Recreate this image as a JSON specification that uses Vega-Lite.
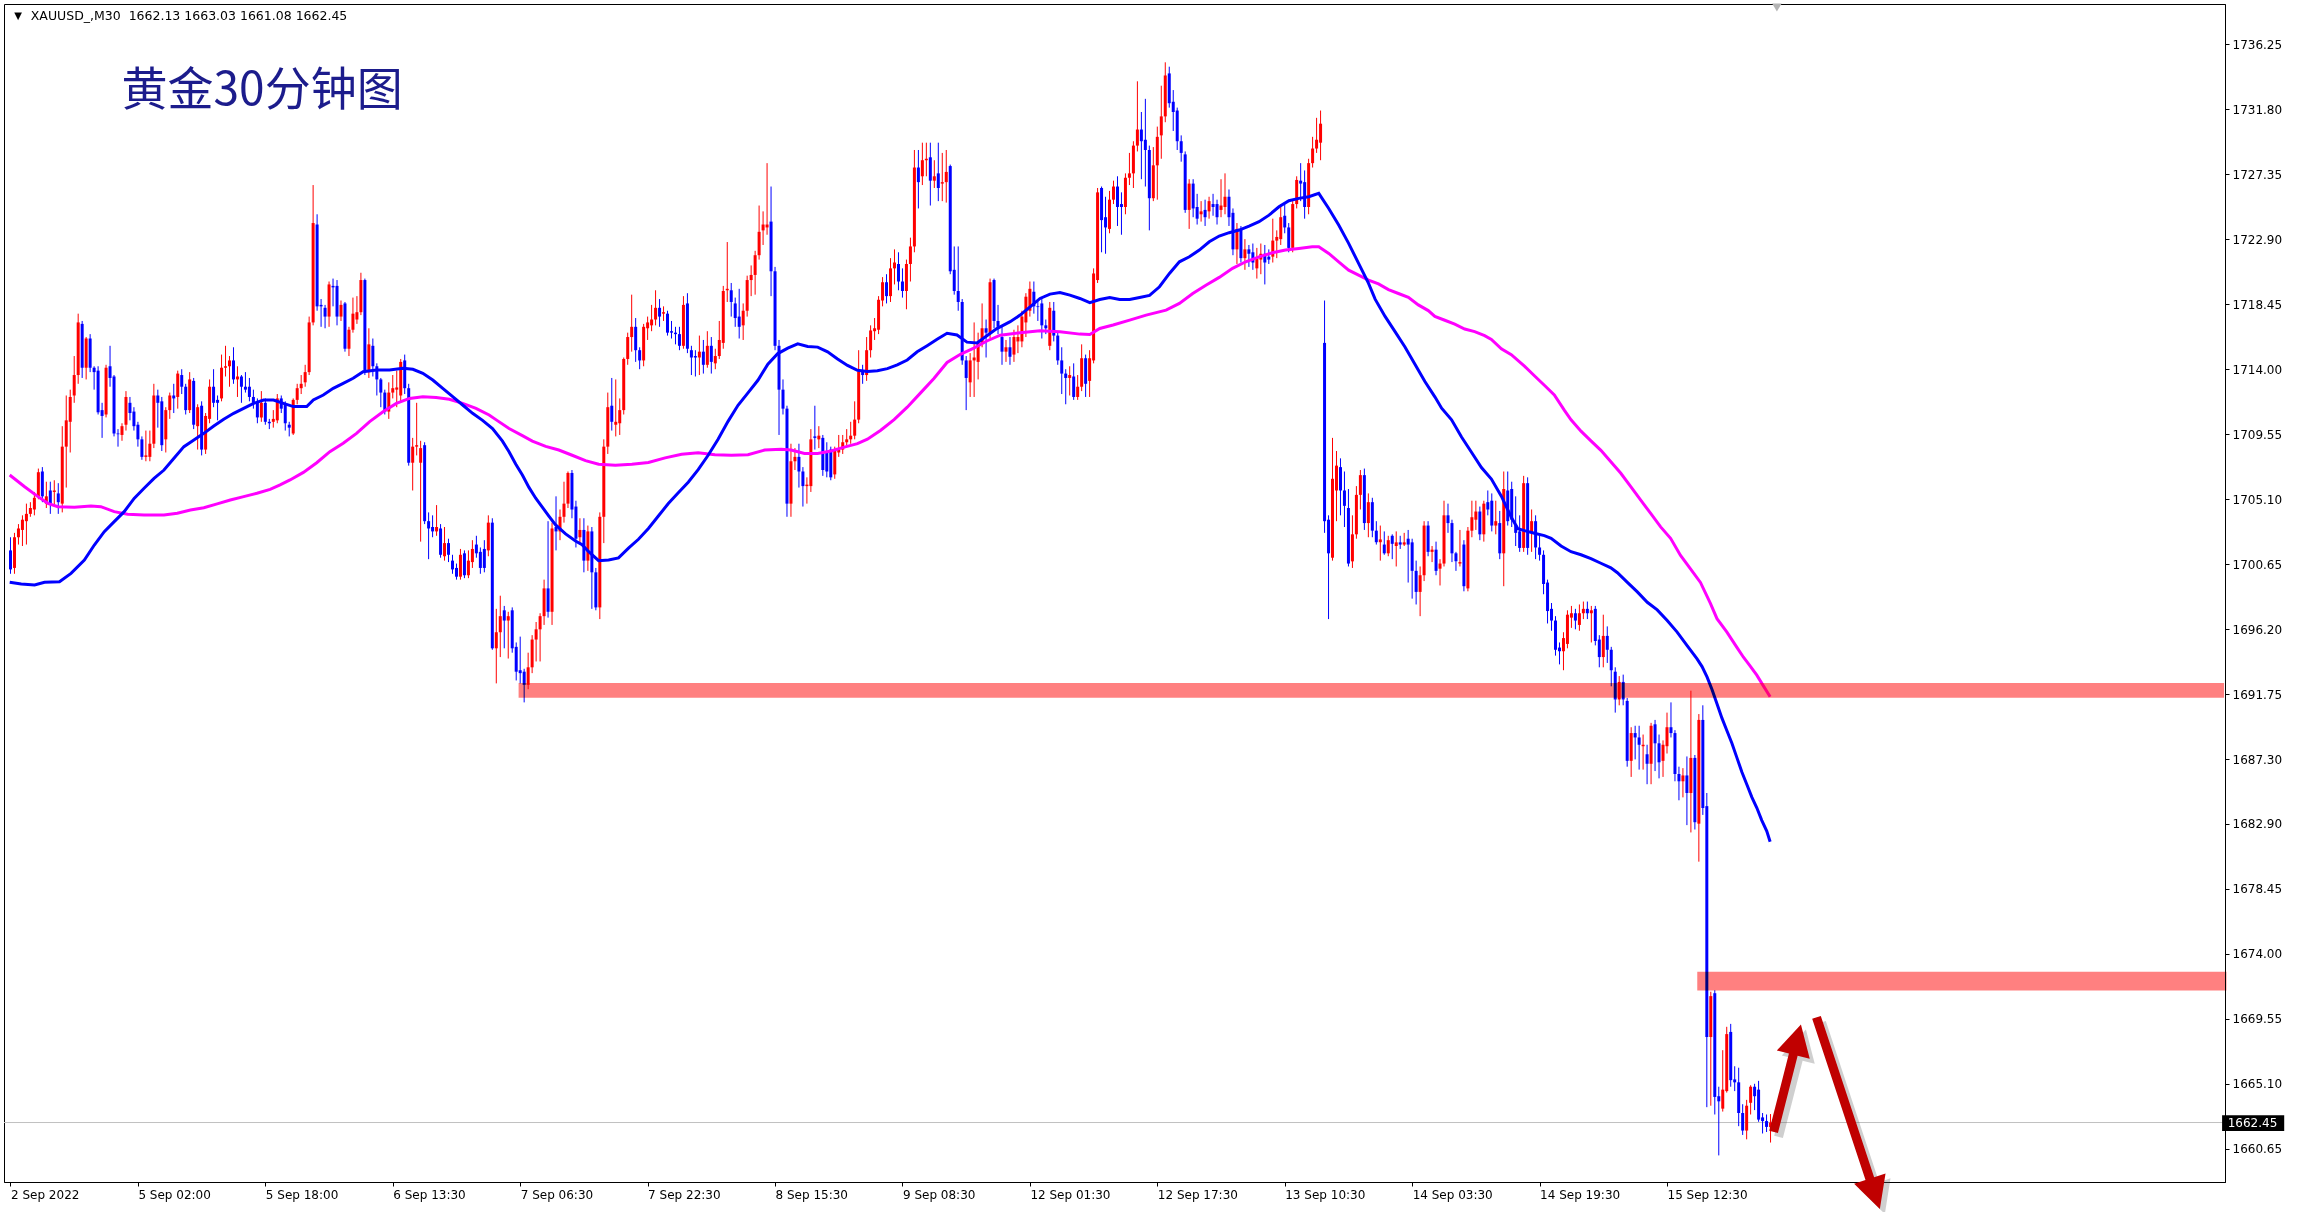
{
  "$schema": "https://vega.github.io/schema/vega-lite/v6.json",
  "width": 2221,
  "height": 1178,
  "autosize": {"type": "none"},
  "padding": {"left": 4, "top": 4, "right": 74, "bottom": 30},
  "background": "#ffffff",
  "config": {
    "view": {"stroke": "#000000", "strokeWidth": 1},
    "font": "DejaVu Sans",
    "axis": {"labelFont": "DejaVu Sans", "labelFontSize": 12, "labelColor": "#000000", "tickColor": "#000000", "domainColor": "#000000", "grid": false, "tickSize": 4, "labelFlush": false, "labelOverlap": false, "labelBound": false}
  },
  "datasets": {
    "candles": [
{"i":0,"o":1701.6,"h":1702.5,"l":1700.0,"c":1700.3},
{"i":1,"o":1700.4,"h":1702.8,"l":1700.0,"c":1702.5},
{"i":2,"o":1702.5,"h":1703.4,"l":1702.0,"c":1703.1},
{"i":3,"o":1703.0,"h":1704.0,"l":1701.9,"c":1703.7},
{"i":4,"o":1703.6,"h":1704.8,"l":1702.0,"c":1704.1},
{"i":5,"o":1704.1,"h":1704.9,"l":1703.9,"c":1704.5},
{"i":6,"o":1704.4,"h":1705.6,"l":1704.0,"c":1705.2},
{"i":7,"o":1705.3,"h":1707.2,"l":1705.1,"c":1706.95},
{"i":8,"o":1707.0,"h":1707.3,"l":1704.9,"c":1705.3},
{"i":9,"o":1704.8,"h":1706.3,"l":1704.5,"c":1705.3},
{"i":10,"o":1705.7,"h":1706.3,"l":1704.1,"c":1704.8},
{"i":11,"o":1705.6,"h":1706.4,"l":1704.6,"c":1705.7},
{"i":12,"o":1705.5,"h":1706.2,"l":1704.1,"c":1704.9},
{"i":13,"o":1704.8,"h":1710.1,"l":1704.2,"c":1708.7},
{"i":14,"o":1708.7,"h":1712.2,"l":1705.9,"c":1710.5},
{"i":15,"o":1710.4,"h":1712.6,"l":1708.3,"c":1712.1},
{"i":16,"o":1712.2,"h":1714.9,"l":1711.7,"c":1713.6},
{"i":17,"o":1713.6,"h":1717.8,"l":1713.0,"c":1717.2},
{"i":18,"o":1717.1,"h":1717.3,"l":1713.4,"c":1714.1},
{"i":19,"o":1714.1,"h":1716.2,"l":1713.3,"c":1716.1},
{"i":20,"o":1716.1,"h":1716.4,"l":1713.8,"c":1714.1},
{"i":21,"o":1714.1,"h":1714.2,"l":1712.6,"c":1713.8},
{"i":22,"o":1713.9,"h":1714.2,"l":1710.9,"c":1711.05},
{"i":23,"o":1711.2,"h":1711.7,"l":1709.3,"c":1710.8},
{"i":24,"o":1710.9,"h":1714.3,"l":1710.7,"c":1714.1},
{"i":25,"o":1714.2,"h":1715.6,"l":1712.8,"c":1713.4},
{"i":26,"o":1713.5,"h":1713.6,"l":1709.4,"c":1709.6},
{"i":27,"o":1709.6,"h":1709.9,"l":1708.7,"c":1709.55},
{"i":28,"o":1709.5,"h":1710.3,"l":1709.1,"c":1710.1},
{"i":29,"o":1710.2,"h":1712.5,"l":1709.8,"c":1712.1},
{"i":30,"o":1711.7,"h":1712.1,"l":1710.5,"c":1711.0},
{"i":31,"o":1711.1,"h":1711.4,"l":1709.8,"c":1710.1},
{"i":32,"o":1710.2,"h":1710.4,"l":1708.7,"c":1709.2},
{"i":33,"o":1709.2,"h":1709.4,"l":1707.8,"c":1708.0},
{"i":34,"o":1708.0,"h":1709.8,"l":1707.7,"c":1708.1},
{"i":35,"o":1708.0,"h":1709.8,"l":1707.7,"c":1708.9},
{"i":36,"o":1708.9,"h":1713.0,"l":1708.6,"c":1712.2},
{"i":37,"o":1712.2,"h":1712.6,"l":1710.0,"c":1711.7},
{"i":38,"o":1711.8,"h":1712.1,"l":1708.4,"c":1708.8},
{"i":39,"o":1709.2,"h":1711.4,"l":1708.3,"c":1711.2},
{"i":40,"o":1711.2,"h":1712.4,"l":1710.6,"c":1712.2},
{"i":41,"o":1712.2,"h":1713.0,"l":1711.0,"c":1712.0},
{"i":42,"o":1712.1,"h":1713.9,"l":1711.3,"c":1713.7},
{"i":43,"o":1713.6,"h":1714.0,"l":1712.3,"c":1712.8},
{"i":44,"o":1712.8,"h":1713.0,"l":1710.9,"c":1711.2},
{"i":45,"o":1711.2,"h":1713.8,"l":1711.0,"c":1713.3},
{"i":46,"o":1713.2,"h":1713.4,"l":1709.9,"c":1710.2},
{"i":47,"o":1710.1,"h":1711.6,"l":1708.5,"c":1711.4},
{"i":48,"o":1711.5,"h":1711.8,"l":1708.1,"c":1708.5},
{"i":49,"o":1708.5,"h":1711.0,"l":1708.2,"c":1710.8},
{"i":50,"o":1710.6,"h":1713.3,"l":1710.3,"c":1712.8},
{"i":51,"o":1712.8,"h":1714.0,"l":1711.4,"c":1711.7},
{"i":52,"o":1711.9,"h":1712.2,"l":1710.5,"c":1711.7},
{"i":53,"o":1712.0,"h":1715.0,"l":1711.8,"c":1714.1},
{"i":54,"o":1714.1,"h":1715.6,"l":1713.5,"c":1714.2},
{"i":55,"o":1714.2,"h":1714.9,"l":1712.8,"c":1714.6},
{"i":56,"o":1714.6,"h":1715.5,"l":1713.0,"c":1713.3},
{"i":57,"o":1713.3,"h":1714.2,"l":1712.1,"c":1713.5},
{"i":58,"o":1713.5,"h":1713.6,"l":1711.7,"c":1712.8},
{"i":59,"o":1712.8,"h":1713.8,"l":1712.4,"c":1712.6},
{"i":60,"o":1712.8,"h":1713.4,"l":1711.8,"c":1712.1},
{"i":61,"o":1712.1,"h":1712.6,"l":1711.3,"c":1711.7},
{"i":62,"o":1711.7,"h":1712.0,"l":1710.3,"c":1710.7},
{"i":63,"o":1710.7,"h":1712.5,"l":1710.4,"c":1711.7},
{"i":64,"o":1711.7,"h":1712.0,"l":1710.2,"c":1710.4},
{"i":65,"o":1710.4,"h":1710.6,"l":1709.9,"c":1710.3},
{"i":66,"o":1710.4,"h":1711.2,"l":1710.0,"c":1710.6},
{"i":67,"o":1710.5,"h":1712.3,"l":1710.3,"c":1712.0},
{"i":68,"o":1712.0,"h":1712.2,"l":1711.0,"c":1711.3},
{"i":69,"o":1711.6,"h":1711.8,"l":1709.8,"c":1710.3},
{"i":70,"o":1710.2,"h":1710.4,"l":1709.4,"c":1710.0},
{"i":71,"o":1709.6,"h":1712.0,"l":1709.5,"c":1711.9},
{"i":72,"o":1711.9,"h":1713.0,"l":1711.6,"c":1712.7},
{"i":73,"o":1712.7,"h":1713.6,"l":1712.3,"c":1713.0},
{"i":74,"o":1713.1,"h":1714.3,"l":1712.8,"c":1713.8},
{"i":75,"o":1713.8,"h":1717.6,"l":1713.6,"c":1717.2},
{"i":76,"o":1717.2,"h":1726.6,"l":1717.0,"c":1724.0},
{"i":77,"o":1723.9,"h":1724.6,"l":1718.0,"c":1718.3},
{"i":78,"o":1718.4,"h":1718.8,"l":1716.9,"c":1718.3},
{"i":79,"o":1718.2,"h":1718.4,"l":1716.8,"c":1717.6},
{"i":80,"o":1717.6,"h":1720.0,"l":1716.9,"c":1719.8},
{"i":81,"o":1719.7,"h":1720.2,"l":1718.3,"c":1719.6},
{"i":82,"o":1719.7,"h":1720.1,"l":1717.0,"c":1717.6},
{"i":83,"o":1717.6,"h":1718.7,"l":1717.3,"c":1718.4},
{"i":84,"o":1718.5,"h":1718.6,"l":1715.2,"c":1715.4},
{"i":85,"o":1715.4,"h":1716.9,"l":1714.9,"c":1716.7},
{"i":86,"o":1716.7,"h":1718.9,"l":1716.5,"c":1717.8},
{"i":87,"o":1717.4,"h":1719.0,"l":1717.1,"c":1717.9},
{"i":88,"o":1717.9,"h":1720.6,"l":1717.7,"c":1720.1},
{"i":89,"o":1720.1,"h":1720.2,"l":1713.6,"c":1713.8},
{"i":90,"o":1713.8,"h":1716.8,"l":1713.4,"c":1715.7},
{"i":91,"o":1715.6,"h":1716.1,"l":1713.5,"c":1714.2},
{"i":92,"o":1714.2,"h":1714.4,"l":1712.2,"c":1713.3},
{"i":93,"o":1713.3,"h":1713.4,"l":1711.4,"c":1712.4},
{"i":94,"o":1712.4,"h":1712.6,"l":1710.9,"c":1711.1},
{"i":95,"o":1711.1,"h":1713.1,"l":1710.6,"c":1712.4},
{"i":96,"o":1712.4,"h":1713.6,"l":1712.0,"c":1712.7},
{"i":97,"o":1712.6,"h":1713.9,"l":1711.4,"c":1712.75},
{"i":98,"o":1712.2,"h":1714.7,"l":1711.8,"c":1714.5},
{"i":99,"o":1714.6,"h":1715.0,"l":1712.3,"c":1712.7},
{"i":100,"o":1712.7,"h":1713.0,"l":1707.4,"c":1707.6},
{"i":101,"o":1707.6,"h":1709.3,"l":1705.7,"c":1708.7},
{"i":102,"o":1708.7,"h":1711.7,"l":1708.1,"c":1708.8},
{"i":103,"o":1707.6,"h":1709.1,"l":1702.2,"c":1708.6},
{"i":104,"o":1708.8,"h":1709.0,"l":1703.4,"c":1703.6},
{"i":105,"o":1703.6,"h":1704.2,"l":1701.0,"c":1703.1},
{"i":106,"o":1703.2,"h":1704.0,"l":1702.5,"c":1702.9},
{"i":107,"o":1702.9,"h":1704.7,"l":1702.6,"c":1703.2},
{"i":108,"o":1703.1,"h":1703.4,"l":1701.1,"c":1701.3},
{"i":109,"o":1701.2,"h":1703.2,"l":1700.9,"c":1702.1},
{"i":110,"o":1702.1,"h":1702.4,"l":1700.8,"c":1701.3},
{"i":111,"o":1700.9,"h":1701.3,"l":1700.0,"c":1700.3},
{"i":112,"o":1700.4,"h":1700.7,"l":1699.6,"c":1699.8},
{"i":113,"o":1699.8,"h":1701.7,"l":1699.6,"c":1701.3},
{"i":114,"o":1701.4,"h":1701.6,"l":1699.7,"c":1699.9},
{"i":115,"o":1699.9,"h":1701.6,"l":1699.7,"c":1700.9},
{"i":116,"o":1700.8,"h":1702.3,"l":1700.4,"c":1701.7},
{"i":117,"o":1702.0,"h":1702.6,"l":1701.1,"c":1701.4},
{"i":118,"o":1701.5,"h":1701.8,"l":1700.0,"c":1700.4},
{"i":119,"o":1701.7,"h":1702.3,"l":1700.1,"c":1700.4},
{"i":120,"o":1701.6,"h":1704.0,"l":1701.2,"c":1703.5},
{"i":121,"o":1703.5,"h":1703.8,"l":1694.8,"c":1694.9},
{"i":122,"o":1694.9,"h":1697.6,"l":1692.5,"c":1696.0},
{"i":123,"o":1696.0,"h":1698.5,"l":1694.3,"c":1697.1},
{"i":124,"o":1697.5,"h":1697.8,"l":1694.9,"c":1696.8},
{"i":125,"o":1696.8,"h":1697.4,"l":1694.2,"c":1697.1},
{"i":126,"o":1697.5,"h":1697.7,"l":1694.6,"c":1694.9},
{"i":127,"o":1695.0,"h":1695.3,"l":1692.7,"c":1693.3},
{"i":128,"o":1693.4,"h":1695.7,"l":1692.5,"c":1693.2},
{"i":129,"o":1693.3,"h":1693.5,"l":1691.2,"c":1692.4},
{"i":130,"o":1692.4,"h":1694.6,"l":1692.1,"c":1693.6},
{"i":131,"o":1693.6,"h":1695.8,"l":1693.2,"c":1695.5},
{"i":132,"o":1695.5,"h":1696.7,"l":1694.0,"c":1696.2},
{"i":133,"o":1696.2,"h":1697.3,"l":1694.0,"c":1697.1},
{"i":134,"o":1697.1,"h":1699.6,"l":1696.5,"c":1699.0},
{"i":135,"o":1699.0,"h":1703.6,"l":1697.0,"c":1697.4},
{"i":136,"o":1697.4,"h":1703.5,"l":1696.5,"c":1703.1},
{"i":137,"o":1703.2,"h":1705.3,"l":1701.6,"c":1702.9},
{"i":138,"o":1702.9,"h":1704.4,"l":1702.3,"c":1703.9},
{"i":139,"o":1703.9,"h":1706.3,"l":1703.5,"c":1704.8},
{"i":140,"o":1704.8,"h":1707.0,"l":1704.5,"c":1706.9},
{"i":141,"o":1706.9,"h":1707.1,"l":1703.8,"c":1704.4},
{"i":142,"o":1704.6,"h":1705.0,"l":1701.8,"c":1702.4},
{"i":143,"o":1702.5,"h":1703.8,"l":1702.0,"c":1703.0},
{"i":144,"o":1703.0,"h":1703.8,"l":1700.1,"c":1700.9},
{"i":145,"o":1700.9,"h":1703.3,"l":1700.2,"c":1702.9},
{"i":146,"o":1702.9,"h":1703.2,"l":1697.6,"c":1700.1},
{"i":147,"o":1700.1,"h":1700.4,"l":1697.5,"c":1697.7},
{"i":148,"o":1697.7,"h":1704.2,"l":1696.9,"c":1703.9},
{"i":149,"o":1703.9,"h":1709.2,"l":1702.1,"c":1708.7},
{"i":150,"o":1708.7,"h":1712.4,"l":1708.2,"c":1711.4},
{"i":151,"o":1711.5,"h":1713.4,"l":1709.8,"c":1710.4},
{"i":152,"o":1710.2,"h":1713.3,"l":1709.4,"c":1710.4},
{"i":153,"o":1710.3,"h":1712.0,"l":1709.5,"c":1711.2},
{"i":154,"o":1711.2,"h":1714.8,"l":1710.9,"c":1714.7},
{"i":155,"o":1714.7,"h":1716.5,"l":1714.3,"c":1716.2},
{"i":156,"o":1716.2,"h":1719.1,"l":1715.2,"c":1716.9},
{"i":157,"o":1716.9,"h":1717.5,"l":1714.5,"c":1715.3},
{"i":158,"o":1715.3,"h":1715.5,"l":1714.0,"c":1714.6},
{"i":159,"o":1714.6,"h":1717.1,"l":1714.2,"c":1716.9},
{"i":160,"o":1716.8,"h":1717.6,"l":1716.0,"c":1717.2},
{"i":161,"o":1717.0,"h":1718.4,"l":1716.6,"c":1717.4},
{"i":162,"o":1717.4,"h":1719.4,"l":1717.0,"c":1718.2},
{"i":163,"o":1718.2,"h":1718.8,"l":1716.9,"c":1717.6},
{"i":164,"o":1717.8,"h":1718.3,"l":1717.3,"c":1717.9},
{"i":165,"o":1717.8,"h":1718.0,"l":1716.3,"c":1716.5},
{"i":166,"o":1716.6,"h":1717.3,"l":1716.1,"c":1716.5},
{"i":167,"o":1716.5,"h":1716.9,"l":1715.7,"c":1716.4},
{"i":168,"o":1716.4,"h":1716.9,"l":1715.3,"c":1715.6},
{"i":169,"o":1715.6,"h":1719.0,"l":1715.4,"c":1718.4},
{"i":170,"o":1718.5,"h":1719.2,"l":1715.1,"c":1715.4},
{"i":171,"o":1715.3,"h":1715.6,"l":1713.6,"c":1714.8},
{"i":172,"o":1714.9,"h":1715.3,"l":1713.5,"c":1714.8},
{"i":173,"o":1714.8,"h":1716.3,"l":1713.6,"c":1715.2},
{"i":174,"o":1715.2,"h":1716.0,"l":1713.7,"c":1714.3},
{"i":175,"o":1714.3,"h":1716.6,"l":1714.1,"c":1715.6},
{"i":176,"o":1715.6,"h":1716.2,"l":1713.7,"c":1714.5},
{"i":177,"o":1714.4,"h":1715.4,"l":1714.0,"c":1714.9},
{"i":178,"o":1714.9,"h":1717.3,"l":1714.7,"c":1716.0},
{"i":179,"o":1715.8,"h":1719.7,"l":1715.4,"c":1719.35},
{"i":180,"o":1719.4,"h":1722.7,"l":1718.6,"c":1719.5},
{"i":181,"o":1719.4,"h":1719.9,"l":1717.6,"c":1718.6},
{"i":182,"o":1718.5,"h":1718.9,"l":1716.9,"c":1717.5},
{"i":183,"o":1717.6,"h":1719.5,"l":1716.1,"c":1716.9},
{"i":184,"o":1717.0,"h":1718.5,"l":1716.0,"c":1718.0},
{"i":185,"o":1718.0,"h":1720.4,"l":1717.6,"c":1720.1},
{"i":186,"o":1720.1,"h":1721.1,"l":1719.0,"c":1720.45},
{"i":187,"o":1720.45,"h":1722.1,"l":1719.1,"c":1721.8},
{"i":188,"o":1721.8,"h":1725.2,"l":1721.5,"c":1723.4},
{"i":189,"o":1723.5,"h":1724.8,"l":1722.5,"c":1723.9},
{"i":190,"o":1723.7,"h":1728.1,"l":1723.2,"c":1723.9},
{"i":191,"o":1724.1,"h":1726.5,"l":1719.0,"c":1720.7},
{"i":192,"o":1720.7,"h":1721.0,"l":1715.3,"c":1715.6},
{"i":193,"o":1715.6,"h":1716.0,"l":1709.5,"c":1712.6},
{"i":194,"o":1712.6,"h":1713.3,"l":1710.9,"c":1711.3},
{"i":195,"o":1711.3,"h":1711.5,"l":1703.9,"c":1704.8},
{"i":196,"o":1704.8,"h":1708.9,"l":1703.9,"c":1707.7},
{"i":197,"o":1707.7,"h":1708.6,"l":1707.1,"c":1708.0},
{"i":198,"o":1708.0,"h":1708.9,"l":1705.9,"c":1707.0},
{"i":199,"o":1707.0,"h":1707.3,"l":1704.6,"c":1706.0},
{"i":200,"o":1706.0,"h":1706.6,"l":1704.8,"c":1706.1},
{"i":201,"o":1706.0,"h":1709.9,"l":1705.6,"c":1709.2},
{"i":202,"o":1709.4,"h":1711.5,"l":1708.5,"c":1709.3},
{"i":203,"o":1709.2,"h":1710.1,"l":1708.6,"c":1709.45},
{"i":204,"o":1709.3,"h":1709.5,"l":1706.7,"c":1707.1},
{"i":205,"o":1708.3,"h":1709.0,"l":1706.6,"c":1707.0},
{"i":206,"o":1708.5,"h":1708.7,"l":1706.4,"c":1706.6},
{"i":207,"o":1706.8,"h":1708.7,"l":1706.5,"c":1708.5},
{"i":208,"o":1708.3,"h":1709.5,"l":1708.0,"c":1708.5},
{"i":209,"o":1708.5,"h":1709.5,"l":1708.2,"c":1709.0},
{"i":210,"o":1709.0,"h":1709.9,"l":1708.8,"c":1709.2},
{"i":211,"o":1709.2,"h":1710.4,"l":1708.9,"c":1709.45},
{"i":212,"o":1709.45,"h":1711.8,"l":1709.2,"c":1710.55},
{"i":213,"o":1710.55,"h":1715.3,"l":1710.3,"c":1713.85},
{"i":214,"o":1713.85,"h":1714.3,"l":1713.0,"c":1713.6},
{"i":215,"o":1713.6,"h":1716.2,"l":1713.2,"c":1715.3},
{"i":216,"o":1715.3,"h":1717.0,"l":1714.8,"c":1716.65},
{"i":217,"o":1716.6,"h":1717.5,"l":1716.0,"c":1716.8},
{"i":218,"o":1716.7,"h":1719.0,"l":1716.4,"c":1718.75},
{"i":219,"o":1718.7,"h":1720.3,"l":1718.3,"c":1719.95},
{"i":220,"o":1719.95,"h":1720.5,"l":1718.5,"c":1719.0},
{"i":221,"o":1719.0,"h":1721.6,"l":1718.6,"c":1720.9},
{"i":222,"o":1720.9,"h":1722.2,"l":1719.8,"c":1721.3},
{"i":223,"o":1721.2,"h":1722.0,"l":1719.4,"c":1720.0},
{"i":224,"o":1720.0,"h":1720.9,"l":1718.9,"c":1719.35},
{"i":225,"o":1719.35,"h":1721.5,"l":1718.1,"c":1721.2},
{"i":226,"o":1721.2,"h":1723.0,"l":1720.0,"c":1722.4},
{"i":227,"o":1722.4,"h":1729.0,"l":1722.0,"c":1727.8},
{"i":228,"o":1727.8,"h":1729.0,"l":1725.0,"c":1726.8},
{"i":229,"o":1727.2,"h":1729.5,"l":1726.6,"c":1728.3},
{"i":230,"o":1728.3,"h":1729.5,"l":1727.2,"c":1728.4},
{"i":231,"o":1728.5,"h":1729.5,"l":1725.2,"c":1726.9},
{"i":232,"o":1726.9,"h":1728.3,"l":1726.4,"c":1727.2},
{"i":233,"o":1727.4,"h":1729.5,"l":1725.5,"c":1726.4},
{"i":234,"o":1726.7,"h":1728.8,"l":1725.5,"c":1726.8},
{"i":235,"o":1726.8,"h":1729.0,"l":1725.4,"c":1727.5},
{"i":236,"o":1727.9,"h":1728.0,"l":1720.5,"c":1720.7},
{"i":237,"o":1720.8,"h":1722.4,"l":1719.1,"c":1719.35},
{"i":238,"o":1719.35,"h":1722.4,"l":1718.0,"c":1718.6},
{"i":239,"o":1718.6,"h":1718.8,"l":1714.3,"c":1714.6},
{"i":240,"o":1714.6,"h":1714.9,"l":1711.2,"c":1713.4},
{"i":241,"o":1713.1,"h":1715.1,"l":1712.1,"c":1714.6},
{"i":242,"o":1714.6,"h":1717.2,"l":1712.1,"c":1714.8},
{"i":243,"o":1714.5,"h":1716.5,"l":1713.3,"c":1715.8},
{"i":244,"o":1715.8,"h":1718.5,"l":1715.5,"c":1716.8},
{"i":245,"o":1716.8,"h":1717.4,"l":1714.8,"c":1716.5},
{"i":246,"o":1716.5,"h":1720.2,"l":1716.1,"c":1719.95},
{"i":247,"o":1720.1,"h":1720.2,"l":1716.8,"c":1717.3},
{"i":248,"o":1717.3,"h":1718.4,"l":1716.4,"c":1716.9},
{"i":249,"o":1716.2,"h":1717.0,"l":1714.3,"c":1715.2},
{"i":250,"o":1715.2,"h":1716.0,"l":1714.5,"c":1715.5},
{"i":251,"o":1715.5,"h":1716.2,"l":1714.3,"c":1714.85},
{"i":252,"o":1715.0,"h":1716.7,"l":1714.5,"c":1716.2},
{"i":253,"o":1715.9,"h":1717.0,"l":1715.1,"c":1716.2},
{"i":254,"o":1715.9,"h":1718.0,"l":1715.5,"c":1717.6},
{"i":255,"o":1717.2,"h":1719.2,"l":1716.2,"c":1718.96},
{"i":256,"o":1718.0,"h":1720.0,"l":1717.6,"c":1719.5},
{"i":257,"o":1719.3,"h":1720.0,"l":1717.8,"c":1718.3},
{"i":258,"o":1718.3,"h":1718.8,"l":1717.3,"c":1718.25},
{"i":259,"o":1718.5,"h":1718.9,"l":1716.1,"c":1717.0},
{"i":260,"o":1717.0,"h":1717.4,"l":1716.4,"c":1716.8},
{"i":261,"o":1715.6,"h":1718.6,"l":1715.3,"c":1718.2},
{"i":262,"o":1718.0,"h":1718.6,"l":1715.9,"c":1716.3},
{"i":263,"o":1716.3,"h":1716.5,"l":1714.3,"c":1714.6},
{"i":264,"o":1714.6,"h":1715.5,"l":1712.3,"c":1713.7},
{"i":265,"o":1713.7,"h":1714.0,"l":1711.6,"c":1713.4},
{"i":266,"o":1713.4,"h":1714.2,"l":1712.2,"c":1713.6},
{"i":267,"o":1713.5,"h":1714.4,"l":1711.9,"c":1712.1},
{"i":268,"o":1712.1,"h":1713.6,"l":1711.9,"c":1712.8},
{"i":269,"o":1712.8,"h":1715.7,"l":1712.5,"c":1714.75},
{"i":270,"o":1714.75,"h":1715.0,"l":1712.1,"c":1713.0},
{"i":271,"o":1713.2,"h":1715.3,"l":1712.1,"c":1714.75},
{"i":272,"o":1714.6,"h":1720.9,"l":1714.4,"c":1720.55},
{"i":273,"o":1720.1,"h":1726.4,"l":1719.9,"c":1726.1},
{"i":274,"o":1726.4,"h":1726.5,"l":1722.0,"c":1724.2},
{"i":275,"o":1724.4,"h":1725.8,"l":1721.9,"c":1723.7},
{"i":276,"o":1723.6,"h":1726.2,"l":1723.3,"c":1725.6},
{"i":277,"o":1725.6,"h":1726.9,"l":1725.3,"c":1726.5},
{"i":278,"o":1726.5,"h":1727.2,"l":1723.8,"c":1725.1},
{"i":279,"o":1725.3,"h":1726.1,"l":1723.2,"c":1725.1},
{"i":280,"o":1725.1,"h":1727.4,"l":1724.6,"c":1727.1},
{"i":281,"o":1727.1,"h":1728.8,"l":1726.6,"c":1727.4},
{"i":282,"o":1727.4,"h":1729.6,"l":1726.4,"c":1729.3},
{"i":283,"o":1729.3,"h":1733.7,"l":1728.9,"c":1730.4},
{"i":284,"o":1730.4,"h":1731.6,"l":1727.0,"c":1729.6},
{"i":285,"o":1729.7,"h":1732.5,"l":1726.5,"c":1729.0},
{"i":286,"o":1729.0,"h":1729.3,"l":1723.5,"c":1725.7},
{"i":287,"o":1725.7,"h":1729.2,"l":1725.5,"c":1727.95},
{"i":288,"o":1727.95,"h":1730.6,"l":1725.6,"c":1729.9},
{"i":289,"o":1730.0,"h":1733.4,"l":1728.4,"c":1731.3},
{"i":290,"o":1731.3,"h":1735.0,"l":1730.9,"c":1734.1},
{"i":291,"o":1734.24,"h":1734.7,"l":1731.9,"c":1732.2},
{"i":292,"o":1732.3,"h":1733.1,"l":1730.3,"c":1731.6},
{"i":293,"o":1731.7,"h":1731.9,"l":1729.0,"c":1729.6},
{"i":294,"o":1729.6,"h":1730.0,"l":1728.2,"c":1728.8},
{"i":295,"o":1728.7,"h":1728.9,"l":1724.7,"c":1724.9},
{"i":296,"o":1724.9,"h":1727.0,"l":1723.6,"c":1726.7},
{"i":297,"o":1726.7,"h":1727.0,"l":1724.4,"c":1725.0},
{"i":298,"o":1725.1,"h":1726.0,"l":1723.9,"c":1724.3},
{"i":299,"o":1724.6,"h":1725.5,"l":1724.1,"c":1724.8},
{"i":300,"o":1724.9,"h":1725.6,"l":1723.8,"c":1724.4},
{"i":301,"o":1724.8,"h":1725.8,"l":1724.3,"c":1725.5},
{"i":302,"o":1725.3,"h":1726.0,"l":1724.5,"c":1725.1},
{"i":303,"o":1725.3,"h":1725.6,"l":1723.9,"c":1724.4},
{"i":304,"o":1724.9,"h":1727.0,"l":1724.4,"c":1725.2},
{"i":305,"o":1725.1,"h":1727.4,"l":1724.6,"c":1725.8},
{"i":306,"o":1725.8,"h":1726.3,"l":1723.8,"c":1724.4},
{"i":307,"o":1724.7,"h":1725.0,"l":1721.8,"c":1722.2},
{"i":308,"o":1722.2,"h":1724.0,"l":1721.2,"c":1723.6},
{"i":309,"o":1723.6,"h":1723.8,"l":1721.3,"c":1721.6},
{"i":310,"o":1721.6,"h":1722.9,"l":1720.8,"c":1722.2},
{"i":311,"o":1722.2,"h":1722.5,"l":1721.0,"c":1721.9},
{"i":312,"o":1722.0,"h":1722.6,"l":1720.8,"c":1721.3},
{"i":313,"o":1720.9,"h":1722.3,"l":1720.2,"c":1721.6},
{"i":314,"o":1721.5,"h":1722.6,"l":1720.5,"c":1721.9},
{"i":315,"o":1721.9,"h":1722.5,"l":1719.8,"c":1721.3},
{"i":316,"o":1721.7,"h":1722.2,"l":1721.2,"c":1721.5},
{"i":317,"o":1721.7,"h":1724.3,"l":1721.3,"c":1722.8},
{"i":318,"o":1722.8,"h":1723.5,"l":1721.6,"c":1723.05},
{"i":319,"o":1722.9,"h":1725.3,"l":1722.5,"c":1724.4},
{"i":320,"o":1724.5,"h":1725.3,"l":1723.3,"c":1723.7},
{"i":321,"o":1723.7,"h":1724.0,"l":1722.0,"c":1722.3},
{"i":322,"o":1722.3,"h":1725.5,"l":1722.0,"c":1725.3},
{"i":323,"o":1725.3,"h":1727.2,"l":1725.0,"c":1726.95},
{"i":324,"o":1726.9,"h":1728.1,"l":1725.5,"c":1726.7},
{"i":325,"o":1726.8,"h":1727.6,"l":1724.3,"c":1725.1},
{"i":326,"o":1725.1,"h":1728.4,"l":1724.6,"c":1728.1},
{"i":327,"o":1728.1,"h":1729.9,"l":1727.8,"c":1729.1},
{"i":328,"o":1729.1,"h":1731.2,"l":1728.8,"c":1729.7},
{"i":329,"o":1729.5,"h":1731.7,"l":1728.3,"c":1730.8},
{"i":330,"o":1715.8,"h":1718.7,"l":1702.8,"c":1703.6},
{"i":331,"o":1703.7,"h":1704.0,"l":1696.9,"c":1701.4},
{"i":332,"o":1701.1,"h":1709.3,"l":1700.9,"c":1706.5},
{"i":333,"o":1705.7,"h":1708.4,"l":1703.6,"c":1707.4},
{"i":334,"o":1707.3,"h":1707.9,"l":1704.0,"c":1705.7},
{"i":335,"o":1705.7,"h":1707.0,"l":1703.2,"c":1704.65},
{"i":336,"o":1704.5,"h":1705.8,"l":1700.5,"c":1700.7},
{"i":337,"o":1700.85,"h":1704.0,"l":1700.4,"c":1702.7},
{"i":338,"o":1702.7,"h":1706.0,"l":1702.4,"c":1705.4},
{"i":339,"o":1705.4,"h":1707.1,"l":1704.4,"c":1706.75},
{"i":340,"o":1706.75,"h":1707.2,"l":1703.0,"c":1703.47},
{"i":341,"o":1703.47,"h":1705.5,"l":1702.5,"c":1704.9},
{"i":342,"o":1704.9,"h":1705.2,"l":1702.5,"c":1702.95},
{"i":343,"o":1702.95,"h":1703.6,"l":1702.0,"c":1702.16},
{"i":344,"o":1702.16,"h":1703.3,"l":1700.9,"c":1702.35},
{"i":345,"o":1702.0,"h":1702.9,"l":1701.3,"c":1701.4},
{"i":346,"o":1701.4,"h":1702.6,"l":1701.2,"c":1702.3},
{"i":347,"o":1702.6,"h":1702.7,"l":1701.0,"c":1702.05},
{"i":348,"o":1701.9,"h":1702.9,"l":1700.5,"c":1702.15},
{"i":349,"o":1702.15,"h":1702.6,"l":1701.7,"c":1702.0},
{"i":350,"o":1702.0,"h":1702.8,"l":1701.9,"c":1702.15},
{"i":351,"o":1702.4,"h":1703.0,"l":1699.4,"c":1702.0},
{"i":352,"o":1702.15,"h":1702.4,"l":1698.3,"c":1700.2},
{"i":353,"o":1700.2,"h":1700.9,"l":1697.9,"c":1698.76},
{"i":354,"o":1698.76,"h":1700.5,"l":1697.1,"c":1699.9},
{"i":355,"o":1699.9,"h":1703.6,"l":1699.5,"c":1703.3},
{"i":356,"o":1703.3,"h":1703.6,"l":1701.2,"c":1701.5},
{"i":357,"o":1701.5,"h":1701.9,"l":1700.8,"c":1701.65},
{"i":358,"o":1701.65,"h":1702.2,"l":1699.9,"c":1700.2},
{"i":359,"o":1700.35,"h":1701.0,"l":1699.2,"c":1700.7},
{"i":360,"o":1700.7,"h":1705.0,"l":1700.5,"c":1704.0},
{"i":361,"o":1704.0,"h":1704.8,"l":1702.8,"c":1703.47},
{"i":362,"o":1703.47,"h":1703.7,"l":1700.8,"c":1701.4},
{"i":363,"o":1701.4,"h":1701.5,"l":1700.2,"c":1700.86},
{"i":364,"o":1700.7,"h":1703.0,"l":1700.5,"c":1700.8},
{"i":365,"o":1702.0,"h":1702.3,"l":1698.8,"c":1699.15},
{"i":366,"o":1699.0,"h":1703.2,"l":1698.8,"c":1702.95},
{"i":367,"o":1702.95,"h":1705.0,"l":1702.5,"c":1703.87},
{"i":368,"o":1703.7,"h":1705.0,"l":1703.0,"c":1704.26},
{"i":369,"o":1704.26,"h":1704.6,"l":1702.3,"c":1702.7},
{"i":370,"o":1702.7,"h":1705.0,"l":1702.2,"c":1704.8},
{"i":371,"o":1704.9,"h":1705.7,"l":1704.0,"c":1704.4},
{"i":372,"o":1705.0,"h":1705.5,"l":1702.9,"c":1703.3},
{"i":373,"o":1703.3,"h":1705.0,"l":1702.7,"c":1703.6},
{"i":374,"o":1703.47,"h":1704.3,"l":1701.0,"c":1701.4},
{"i":375,"o":1701.4,"h":1707.0,"l":1699.15,"c":1705.8},
{"i":376,"o":1705.7,"h":1707.0,"l":1703.3,"c":1703.6},
{"i":377,"o":1705.8,"h":1706.3,"l":1703.2,"c":1703.7},
{"i":378,"o":1703.35,"h":1705.3,"l":1701.9,"c":1702.8},
{"i":379,"o":1702.9,"h":1704.0,"l":1701.5,"c":1701.77},
{"i":380,"o":1701.77,"h":1706.7,"l":1701.5,"c":1706.2},
{"i":381,"o":1706.2,"h":1706.6,"l":1701.3,"c":1701.77},
{"i":382,"o":1702.8,"h":1704.4,"l":1701.5,"c":1703.6},
{"i":383,"o":1703.6,"h":1704.0,"l":1701.0,"c":1701.8},
{"i":384,"o":1701.8,"h":1702.7,"l":1700.9,"c":1701.3},
{"i":385,"o":1701.3,"h":1701.6,"l":1698.6,"c":1699.3},
{"i":386,"o":1699.4,"h":1699.6,"l":1696.6,"c":1697.45},
{"i":387,"o":1697.6,"h":1698.0,"l":1696.1,"c":1696.8},
{"i":388,"o":1696.8,"h":1697.1,"l":1694.4,"c":1694.8},
{"i":389,"o":1694.95,"h":1695.3,"l":1693.8,"c":1694.7},
{"i":390,"o":1694.7,"h":1696.0,"l":1693.4,"c":1695.6},
{"i":391,"o":1695.2,"h":1697.5,"l":1694.9,"c":1697.2},
{"i":392,"o":1697.0,"h":1697.8,"l":1696.3,"c":1697.3},
{"i":393,"o":1697.3,"h":1697.6,"l":1696.2,"c":1696.8},
{"i":394,"o":1696.5,"h":1697.9,"l":1696.1,"c":1697.3},
{"i":395,"o":1697.3,"h":1698.1,"l":1696.9,"c":1697.6},
{"i":396,"o":1697.6,"h":1698.1,"l":1696.9,"c":1697.3},
{"i":397,"o":1697.3,"h":1697.8,"l":1695.3,"c":1697.5},
{"i":398,"o":1697.6,"h":1697.8,"l":1695.1,"c":1695.4},
{"i":399,"o":1695.5,"h":1695.8,"l":1693.6,"c":1694.3},
{"i":400,"o":1694.3,"h":1697.2,"l":1693.6,"c":1695.75},
{"i":401,"o":1695.75,"h":1696.4,"l":1693.9,"c":1694.8},
{"i":402,"o":1694.8,"h":1695.0,"l":1692.3,"c":1693.4},
{"i":403,"o":1693.3,"h":1693.6,"l":1690.5,"c":1691.4},
{"i":404,"o":1691.4,"h":1693.0,"l":1691.0,"c":1692.6},
{"i":405,"o":1692.6,"h":1693.1,"l":1691.0,"c":1691.4},
{"i":406,"o":1691.3,"h":1691.5,"l":1686.8,"c":1687.2},
{"i":407,"o":1687.2,"h":1689.5,"l":1686.1,"c":1689.1},
{"i":408,"o":1689.1,"h":1689.6,"l":1687.3,"c":1688.8},
{"i":409,"o":1688.8,"h":1689.6,"l":1686.6,"c":1688.3},
{"i":410,"o":1688.2,"h":1689.0,"l":1686.6,"c":1688.3},
{"i":411,"o":1687.65,"h":1688.3,"l":1685.6,"c":1687.0},
{"i":412,"o":1687.0,"h":1689.8,"l":1685.6,"c":1689.6},
{"i":413,"o":1689.7,"h":1690.0,"l":1686.5,"c":1688.4},
{"i":414,"o":1688.4,"h":1689.0,"l":1686.0,"c":1687.1},
{"i":415,"o":1687.2,"h":1688.6,"l":1686.1,"c":1688.3},
{"i":416,"o":1688.2,"h":1690.5,"l":1687.7,"c":1689.5},
{"i":417,"o":1689.5,"h":1691.2,"l":1688.8,"c":1689.1},
{"i":418,"o":1689.1,"h":1689.3,"l":1685.8,"c":1686.3},
{"i":419,"o":1686.3,"h":1686.8,"l":1684.5,"c":1685.8},
{"i":420,"o":1685.8,"h":1686.7,"l":1684.7,"c":1686.2},
{"i":421,"o":1686.2,"h":1687.5,"l":1682.8,"c":1685.0},
{"i":422,"o":1685.0,"h":1692.0,"l":1682.3,"c":1687.4},
{"i":423,"o":1687.4,"h":1687.6,"l":1682.5,"c":1683.0},
{"i":424,"o":1682.9,"h":1690.4,"l":1680.3,"c":1690.0},
{"i":425,"o":1690.0,"h":1691.0,"l":1683.5,"c":1683.97},
{"i":426,"o":1684.1,"h":1685.0,"l":1663.5,"c":1668.3},
{"i":427,"o":1668.3,"h":1671.4,"l":1663.6,"c":1671.1},
{"i":428,"o":1671.3,"h":1671.5,"l":1663.0,"c":1664.2},
{"i":429,"o":1664.25,"h":1664.9,"l":1660.2,"c":1663.9},
{"i":430,"o":1663.4,"h":1667.4,"l":1663.2,"c":1664.7},
{"i":431,"o":1664.6,"h":1669.0,"l":1664.5,"c":1668.5},
{"i":432,"o":1668.65,"h":1669.2,"l":1664.9,"c":1665.35},
{"i":433,"o":1665.4,"h":1666.3,"l":1664.6,"c":1665.2},
{"i":434,"o":1665.2,"h":1666.2,"l":1662.2,"c":1663.1},
{"i":435,"o":1663.1,"h":1663.7,"l":1661.6,"c":1661.9},
{"i":436,"o":1661.9,"h":1664.0,"l":1661.3,"c":1663.6},
{"i":437,"o":1663.8,"h":1665.0,"l":1663.0,"c":1664.9},
{"i":438,"o":1664.9,"h":1665.1,"l":1663.3,"c":1664.25},
{"i":439,"o":1664.7,"h":1665.3,"l":1662.5,"c":1662.65},
{"i":440,"o":1662.8,"h":1663.1,"l":1661.7,"c":1662.55},
{"i":441,"o":1662.55,"h":1663.0,"l":1661.8,"c":1662.15},
{"i":442,"o":1662.13,"h":1663.03,"l":1661.08,"c":1662.45}
    ],
    "ma_fast": [
{"i":-0.2,"v":1699.42},{"i":2.7,"v":1699.3},{"i":6.05,"v":1699.23},{"i":8.55,"v":1699.42},{"i":12.3,"v":1699.46},{"i":15.2,"v":1700.03},{"i":18.55,"v":1700.94},{"i":21.05,"v":1701.97},{"i":23.55,"v":1702.88},{"i":26.05,"v":1703.57},{"i":28.55,"v":1704.25},{"i":31.05,"v":1705.16},{"i":33.55,"v":1705.85},{"i":36.05,"v":1706.53},{"i":38.55,"v":1707.1},{"i":41.05,"v":1707.9},{"i":43.55,"v":1708.7},{"i":46.05,"v":1709.15},{"i":48.55,"v":1709.61},{"i":51.05,"v":1710.11},{"i":53.55,"v":1710.57},{"i":56.05,"v":1710.98},{"i":58.55,"v":1711.32},{"i":61.05,"v":1711.66},{"i":63.55,"v":1711.89},{"i":66.05,"v":1711.89},{"i":68.55,"v":1711.66},{"i":71.05,"v":1711.44},{"i":74.4,"v":1711.44},{"i":76.05,"v":1711.89},{"i":78.55,"v":1712.23},{"i":81.05,"v":1712.69},{"i":83.55,"v":1713.03},{"i":86.05,"v":1713.38},{"i":88.55,"v":1713.83},{"i":91.9,"v":1713.95},{"i":95.2,"v":1713.95},{"i":98.55,"v":1714.06},{"i":101.05,"v":1713.99},{"i":103.55,"v":1713.72},{"i":106.05,"v":1713.26},{"i":108.55,"v":1712.69},{"i":111.05,"v":1712.12},{"i":113.55,"v":1711.55},{"i":116.05,"v":1710.98},{"i":118.55,"v":1710.5},{"i":121.05,"v":1709.94},{"i":123.55,"v":1709.08},{"i":125.2,"v":1708.35},{"i":126.9,"v":1707.5},{"i":128.55,"v":1706.76},{"i":130.2,"v":1705.91},{"i":131.9,"v":1705.17},{"i":133.55,"v":1704.56},{"i":135.2,"v":1703.95},{"i":136.9,"v":1703.34},{"i":139.4,"v":1702.73},{"i":141.9,"v":1702.24},{"i":143.55,"v":1701.99},{"i":145.2,"v":1701.51},{"i":147.7,"v":1700.9},{"i":150.2,"v":1700.95},{"i":152.7,"v":1701.09},{"i":155.2,"v":1701.75},{"i":157.7,"v":1702.36},{"i":160.2,"v":1703.1},{"i":162.7,"v":1703.95},{"i":165.2,"v":1704.81},{"i":167.7,"v":1705.54},{"i":170.2,"v":1706.27},{"i":172.7,"v":1707.13},{"i":175.2,"v":1708.11},{"i":177.7,"v":1709.2},{"i":180.2,"v":1710.43},{"i":182.7,"v":1711.53},{"i":185.2,"v":1712.38},{"i":187.7,"v":1713.24},{"i":190.2,"v":1714.34},{"i":192.7,"v":1715.07},{"i":195.2,"v":1715.44},{"i":197.7,"v":1715.73},{"i":200.2,"v":1715.56},{"i":202.7,"v":1715.51},{"i":205.2,"v":1715.19},{"i":207.7,"v":1714.7},{"i":210.2,"v":1714.26},{"i":212.7,"v":1713.92},{"i":215.2,"v":1713.85},{"i":217.7,"v":1713.9},{"i":220.2,"v":1714.04},{"i":222.7,"v":1714.29},{"i":225.2,"v":1714.63},{"i":227.7,"v":1715.19},{"i":230.2,"v":1715.61},{"i":232.7,"v":1716.05},{"i":235.2,"v":1716.46},{"i":237.7,"v":1716.34},{"i":240.2,"v":1715.85},{"i":242.7,"v":1715.8},{"i":245.2,"v":1716.29},{"i":247.7,"v":1716.78},{"i":248.55,"v":1716.9},{"i":251.05,"v":1717.25},{"i":253.55,"v":1717.7},{"i":256.05,"v":1718.27},{"i":258.55,"v":1718.84},{"i":261.05,"v":1719.14},{"i":263.55,"v":1719.25},{"i":266.05,"v":1719.07},{"i":268.55,"v":1718.84},{"i":271.05,"v":1718.55},{"i":273.55,"v":1718.77},{"i":276.05,"v":1718.91},{"i":278.55,"v":1718.77},{"i":281.05,"v":1718.77},{"i":283.55,"v":1718.91},{"i":286.05,"v":1719.05},{"i":288.55,"v":1719.64},{"i":291.05,"v":1720.55},{"i":293.55,"v":1721.35},{"i":296.05,"v":1721.69},{"i":298.55,"v":1722.15},{"i":301.05,"v":1722.72},{"i":303.55,"v":1723.11},{"i":306.05,"v":1723.34},{"i":308.55,"v":1723.52},{"i":311.05,"v":1723.79},{"i":313.55,"v":1724.09},{"i":316.05,"v":1724.54},{"i":318.55,"v":1725.11},{"i":321.05,"v":1725.53},{"i":323.55,"v":1725.69},{"i":326.05,"v":1725.8},{"i":328.55,"v":1726.03},{"i":331.05,"v":1725.0},{"i":333.55,"v":1723.86},{"i":336.05,"v":1722.61},{"i":338.55,"v":1721.24},{"i":341.05,"v":1719.87},{"i":342.7,"v":1718.79},{"i":345.2,"v":1717.61},{"i":347.7,"v":1716.57},{"i":350.2,"v":1715.52},{"i":352.7,"v":1714.34},{"i":355.2,"v":1713.16},{"i":357.7,"v":1712.11},{"i":359.4,"v":1711.33},{"i":361.9,"v":1710.54},{"i":364.4,"v":1709.36},{"i":366.9,"v":1708.32},{"i":369.4,"v":1707.27},{"i":371.9,"v":1706.48},{"i":374.4,"v":1705.31},{"i":376.9,"v":1703.87},{"i":378.55,"v":1703.08},{"i":380.2,"v":1702.95},{"i":382.7,"v":1702.77},{"i":385.2,"v":1702.61},{"i":386.9,"v":1702.43},{"i":389.4,"v":1701.9},{"i":391.9,"v":1701.51},{"i":394.4,"v":1701.3},{"i":396.9,"v":1701.04},{"i":399.4,"v":1700.72},{"i":401.9,"v":1700.41},{"i":403.55,"v":1700.07},{"i":406.05,"v":1699.41},{"i":408.55,"v":1698.76},{"i":411.05,"v":1698.05},{"i":413.55,"v":1697.53},{"i":416.05,"v":1696.8},{"i":418.55,"v":1696.01},{"i":421.05,"v":1695.09},{"i":423.55,"v":1694.18},{"i":424.8,"v":1693.65},{"i":426.05,"v":1692.94},{"i":427.3,"v":1692.08},{"i":428.55,"v":1691.1},{"i":429.8,"v":1690.12},{"i":431.05,"v":1689.26},{"i":432.3,"v":1688.4},{"i":433.55,"v":1687.42},{"i":434.8,"v":1686.44},{"i":436.05,"v":1685.58},{"i":437.3,"v":1684.72},{"i":438.55,"v":1683.99},{"i":439.8,"v":1683.13},{"i":441.05,"v":1682.39},{"i":441.9,"v":1681.66}
    ],
    "ma_slow": [
{"i":-0.2,"v":1706.76},{"i":3.55,"v":1705.96},{"i":6.9,"v":1705.28},{"i":9.4,"v":1704.82},{"i":11.9,"v":1704.59},{"i":16.05,"v":1704.55},{"i":20.2,"v":1704.64},{"i":22.7,"v":1704.59},{"i":26.05,"v":1704.25},{"i":29.4,"v":1704.07},{"i":33.55,"v":1704.02},{"i":38.55,"v":1704.02},{"i":41.9,"v":1704.14},{"i":45.2,"v":1704.37},{"i":48.55,"v":1704.52},{"i":51.9,"v":1704.78},{"i":55.2,"v":1705.05},{"i":58.55,"v":1705.28},{"i":61.9,"v":1705.51},{"i":65.2,"v":1705.78},{"i":67.7,"v":1706.08},{"i":70.2,"v":1706.42},{"i":73.55,"v":1706.94},{"i":76.9,"v":1707.6},{"i":80.2,"v":1708.36},{"i":83.55,"v":1708.93},{"i":86.9,"v":1709.61},{"i":90.2,"v":1710.41},{"i":93.55,"v":1711.09},{"i":96.9,"v":1711.66},{"i":100.2,"v":1712.0},{"i":103.55,"v":1712.12},{"i":106.9,"v":1712.07},{"i":110.2,"v":1711.94},{"i":113.55,"v":1711.66},{"i":116.9,"v":1711.32},{"i":120.2,"v":1710.87},{"i":121.9,"v":1710.55},{"i":125.2,"v":1709.94},{"i":128.55,"v":1709.45},{"i":131.05,"v":1709.08},{"i":134.4,"v":1708.72},{"i":137.7,"v":1708.47},{"i":141.05,"v":1708.11},{"i":144.4,"v":1707.74},{"i":147.7,"v":1707.5},{"i":151.9,"v":1707.42},{"i":156.05,"v":1707.5},{"i":160.2,"v":1707.62},{"i":164.4,"v":1707.93},{"i":168.55,"v":1708.18},{"i":172.7,"v":1708.28},{"i":176.9,"v":1708.15},{"i":181.05,"v":1708.11},{"i":185.2,"v":1708.15},{"i":189.4,"v":1708.47},{"i":193.55,"v":1708.52},{"i":196.05,"v":1708.47},{"i":199.4,"v":1708.23},{"i":202.7,"v":1708.23},{"i":206.05,"v":1708.4},{"i":209.4,"v":1708.67},{"i":212.7,"v":1708.91},{"i":215.2,"v":1709.21},{"i":218.55,"v":1709.82},{"i":221.9,"v":1710.55},{"i":225.2,"v":1711.4},{"i":228.55,"v":1712.38},{"i":231.9,"v":1713.36},{"i":235.2,"v":1714.46},{"i":238.55,"v":1715.02},{"i":241.9,"v":1715.44},{"i":245.2,"v":1715.93},{"i":248.55,"v":1716.33},{"i":253.55,"v":1716.49},{"i":258.55,"v":1716.63},{"i":263.55,"v":1716.56},{"i":268.55,"v":1716.4},{"i":271.05,"v":1716.38},{"i":273.55,"v":1716.79},{"i":276.9,"v":1717.02},{"i":281.05,"v":1717.36},{"i":285.2,"v":1717.7},{"i":290.2,"v":1718.04},{"i":293.55,"v":1718.5},{"i":296.9,"v":1719.18},{"i":300.2,"v":1719.75},{"i":303.55,"v":1720.28},{"i":306.9,"v":1720.9},{"i":310.2,"v":1721.35},{"i":313.55,"v":1721.69},{"i":316.9,"v":1721.97},{"i":320.2,"v":1722.15},{"i":323.55,"v":1722.26},{"i":326.9,"v":1722.38},{"i":328.55,"v":1722.38},{"i":331.05,"v":1721.92},{"i":333.55,"v":1721.35},{"i":336.05,"v":1720.78},{"i":338.55,"v":1720.44},{"i":341.05,"v":1720.1},{"i":343.55,"v":1719.84},{"i":346.05,"v":1719.45},{"i":348.55,"v":1719.18},{"i":351.05,"v":1718.92},{"i":353.55,"v":1718.4},{"i":356.05,"v":1718.01},{"i":357.7,"v":1717.61},{"i":360.2,"v":1717.35},{"i":362.7,"v":1717.09},{"i":365.2,"v":1716.75},{"i":367.7,"v":1716.57},{"i":370.2,"v":1716.3},{"i":371.9,"v":1716.04},{"i":374.4,"v":1715.39},{"i":376.9,"v":1714.99},{"i":380.2,"v":1714.21},{"i":382.7,"v":1713.55},{"i":385.2,"v":1712.9},{"i":387.7,"v":1712.24},{"i":390.2,"v":1711.2},{"i":391.9,"v":1710.54},{"i":394.4,"v":1709.76},{"i":396.9,"v":1709.1},{"i":399.4,"v":1708.45},{"i":401.9,"v":1707.66},{"i":404.4,"v":1706.88},{"i":406.9,"v":1705.96},{"i":409.4,"v":1705.04},{"i":411.9,"v":1704.13},{"i":414.4,"v":1703.21},{"i":416.9,"v":1702.43},{"i":419.4,"v":1701.25},{"i":421.9,"v":1700.33},{"i":424.4,"v":1699.41},{"i":426.9,"v":1697.97},{"i":428.55,"v":1696.93},{"i":431.05,"v":1696.01},{"i":433.55,"v":1694.96},{"i":435.2,"v":1694.29},{"i":436.9,"v":1693.68},{"i":438.55,"v":1693.06},{"i":440.2,"v":1692.33},{"i":441.9,"v":1691.59}
    ]
  },
  "layer": [
    {
      "data": {"values": [{"p": 1662.45}]},
      "mark": {"type": "rule", "color": "#c0c0c0", "strokeWidth": 1},
      "encoding": {
        "y": {"field": "p", "type": "quantitative", "title": null, "scale": {"domain": [1658.38, 1738.99], "nice": false, "zero": false}}
      }
    },
    {
      "data": {"name": "candles"},
      "mark": {"type": "rule", "strokeWidth": 1},
      "encoding": {
        "x": {"field": "i", "type": "quantitative", "title": null,
          "scale": {"domain": [-0.375, 554.875], "nice": false, "zero": false},
          "axis": {"orient": "bottom", "values": [0,32,64,96,128,160,192,224,256,288,320,352,384,416],
            "labelExpr": "['2 Sep 2022','5 Sep 02:00','5 Sep 18:00','6 Sep 13:30','7 Sep 06:30','7 Sep 22:30','8 Sep 15:30','9 Sep 08:30','12 Sep 01:30','12 Sep 17:30','13 Sep 10:30','14 Sep 03:30','14 Sep 19:30','15 Sep 12:30'][round(datum.value/32)]",
            "labelAlign": "left", "labelBaseline": "top", "labelPadding": 3, "tickSize": 4}},
        "y": {"field": "l", "type": "quantitative", "title": null,
          "scale": {"domain": [1658.38, 1738.99], "nice": false, "zero": false},
          "axis": {"orient": "right", "values": [1736.25,1731.8,1727.35,1722.9,1718.45,1714,1709.55,1705.1,1700.65,1696.2,1691.75,1687.3,1682.9,1678.45,1674,1669.55,1665.1,1660.65],
            "format": ".2f", "labelAlign": "left", "labelBaseline": "middle", "labelPadding": 3, "tickSize": 4}},
        "y2": {"field": "h"},
        "color": {"condition": {"test": "datum.c >= datum.o", "value": "#ff0000"}, "value": "#0000ff"}
      }
    },
    {
      "data": {"name": "candles"},
      "mark": {"type": "bar", "size": 3},
      "encoding": {
        "x": {"field": "i", "type": "quantitative", "title": null, "scale": {"domain": [-0.375, 554.875], "nice": false, "zero": false}},
        "y": {"field": "o", "type": "quantitative", "title": null, "scale": {"domain": [1658.38, 1738.99], "nice": false, "zero": false}},
        "y2": {"field": "c"},
        "color": {"condition": {"test": "datum.c >= datum.o", "value": "#ff0000"}, "value": "#0000ff"}
      }
    },
    {
      "data": {"name": "ma_slow"},
      "mark": {"type": "line", "color": "#ff00ff", "strokeWidth": 3},
      "encoding": {
        "x": {"field": "i", "type": "quantitative", "title": null, "scale": {"domain": [-0.375, 554.875], "nice": false, "zero": false}},
        "y": {"field": "v", "type": "quantitative", "title": null, "scale": {"domain": [1658.38, 1738.99], "nice": false, "zero": false}}
      }
    },
    {
      "data": {"name": "ma_fast"},
      "mark": {"type": "line", "color": "#0000ff", "strokeWidth": 3},
      "encoding": {
        "x": {"field": "i", "type": "quantitative", "title": null, "scale": {"domain": [-0.375, 554.875], "nice": false, "zero": false}},
        "y": {"field": "v", "type": "quantitative", "title": null, "scale": {"domain": [1658.38, 1738.99], "nice": false, "zero": false}}
      }
    },
    {
      "data": {"values": [
        {"a": 127.6, "b": 555.9, "lo": 1691.52, "hi": 1692.52},
        {"a": 423.6, "b": 556.5, "lo": 1671.48, "hi": 1672.76}
      ]},
      "mark": {"type": "rect", "color": "#ff8080", "blend": "multiply"},
      "encoding": {
        "x": {"field": "a", "type": "quantitative", "title": null, "scale": {"domain": [-0.375, 554.875], "nice": false, "zero": false}},
        "x2": {"field": "b"},
        "y": {"field": "lo", "type": "quantitative", "title": null, "scale": {"domain": [1658.38, 1738.99], "nice": false, "zero": false}},
        "y2": {"field": "hi"}
      }
    },
    {
      "data": {"values": [{"i": 447.45, "p": 1665.14}]},
      "mark": {"type": "point", "shape": "M0,-1L0.307,-0.44L0.081,-0.44L0.081,1L-0.081,1L-0.081,-0.44L-0.307,-0.44Z", "size": 12277, "angle": 14.3, "filled": true, "color": "#606060", "opacity": 0.3},
      "encoding": {
        "x": {"field": "i", "type": "quantitative", "title": null, "scale": {"domain": [-0.375, 554.875], "nice": false, "zero": false}},
        "y": {"field": "p", "type": "quantitative", "title": null, "scale": {"domain": [1658.38, 1738.99], "nice": false, "zero": false}}
      }
    },
    {
      "data": {"values": [{"i": 462.75, "p": 1662.75}]},
      "mark": {"type": "point", "shape": "M0,-1L0.164,-0.683L0.045,-0.683L0.045,1L-0.045,1L-0.045,-0.683L-0.164,-0.683Z", "size": 40723, "angle": 161.7, "filled": true, "color": "#606060", "opacity": 0.3},
      "encoding": {
        "x": {"field": "i", "type": "quantitative", "title": null, "scale": {"domain": [-0.375, 554.875], "nice": false, "zero": false}},
        "y": {"field": "p", "type": "quantitative", "title": null, "scale": {"domain": [1658.38, 1738.99], "nice": false, "zero": false}}
      }
    },
    {
      "data": {"values": [{"i": 446.2, "p": 1665.48}]},
      "mark": {"type": "point", "shape": "M0,-1L0.307,-0.44L0.081,-0.44L0.081,1L-0.081,1L-0.081,-0.44L-0.307,-0.44Z", "size": 12277, "angle": 14.3, "filled": true, "color": "#c00000", "opacity": 1},
      "encoding": {
        "x": {"field": "i", "type": "quantitative", "title": null, "scale": {"domain": [-0.375, 554.875], "nice": false, "zero": false}},
        "y": {"field": "p", "type": "quantitative", "title": null, "scale": {"domain": [1658.38, 1738.99], "nice": false, "zero": false}}
      }
    },
    {
      "data": {"values": [{"i": 461.5, "p": 1663.09}]},
      "mark": {"type": "point", "shape": "M0,-1L0.164,-0.683L0.045,-0.683L0.045,1L-0.045,1L-0.045,-0.683L-0.164,-0.683Z", "size": 40723, "angle": 161.7, "filled": true, "color": "#c00000", "opacity": 1},
      "encoding": {
        "x": {"field": "i", "type": "quantitative", "title": null, "scale": {"domain": [-0.375, 554.875], "nice": false, "zero": false}},
        "y": {"field": "p", "type": "quantitative", "title": null, "scale": {"domain": [1658.38, 1738.99], "nice": false, "zero": false}}
      }
    },
    {
      "data": {"values": [{"i": 443.6, "p": 1738.75}]},
      "mark": {"type": "point", "shape": "triangle-down", "size": 90, "filled": true, "color": "#b4b4b4", "opacity": 1},
      "encoding": {
        "x": {"field": "i", "type": "quantitative", "title": null, "scale": {"domain": [-0.375, 554.875], "nice": false, "zero": false}},
        "y": {"field": "p", "type": "quantitative", "title": null, "scale": {"domain": [1658.38, 1738.99], "nice": false, "zero": false}}
      }
    },
    {
      "data": {"values": [{"a": 555.4, "b": 571.0, "lo": 1661.87, "hi": 1662.95}]},
      "mark": {"type": "rect", "color": "#000000"},
      "encoding": {
        "x": {"field": "a", "type": "quantitative", "title": null, "scale": {"domain": [-0.375, 554.875], "nice": false, "zero": false}},
        "x2": {"field": "b"},
        "y": {"field": "lo", "type": "quantitative", "title": null, "scale": {"domain": [1658.38, 1738.99], "nice": false, "zero": false}},
        "y2": {"field": "hi"}
      }
    },
    {
      "data": {"values": [{"i": 556.8, "p": 1662.45, "t": "1662.45"}]},
      "mark": {"type": "text", "align": "left", "baseline": "middle", "font": "DejaVu Sans", "fontSize": 12, "color": "#ffffff"},
      "encoding": {
        "x": {"field": "i", "type": "quantitative", "title": null, "scale": {"domain": [-0.375, 554.875], "nice": false, "zero": false}},
        "y": {"field": "p", "type": "quantitative", "title": null, "scale": {"domain": [1658.38, 1738.99], "nice": false, "zero": false}},
        "text": {"field": "t"}
      }
    },
    {
      "data": {"values": [{"i": 1.9, "p": 1738.17, "t": "▼"}]},
      "mark": {"type": "text", "align": "center", "baseline": "middle", "font": "DejaVu Sans", "fontSize": 10, "color": "#000000"},
      "encoding": {
        "x": {"field": "i", "type": "quantitative", "title": null, "scale": {"domain": [-0.375, 554.875], "nice": false, "zero": false}},
        "y": {"field": "p", "type": "quantitative", "title": null, "scale": {"domain": [1658.38, 1738.99], "nice": false, "zero": false}},
        "text": {"field": "t"}
      }
    },
    {
      "data": {"values": [{"i": 5.1, "p": 1738.17, "t": "XAUUSD_,M30\u00a0 1662.13 1663.03 1661.08 1662.45"}]},
      "mark": {"type": "text", "align": "left", "baseline": "middle", "font": "DejaVu Sans", "fontSize": 12.5, "color": "#000000"},
      "encoding": {
        "x": {"field": "i", "type": "quantitative", "title": null, "scale": {"domain": [-0.375, 554.875], "nice": false, "zero": false}},
        "y": {"field": "p", "type": "quantitative", "title": null, "scale": {"domain": [1658.38, 1738.99], "nice": false, "zero": false}},
        "text": {"field": "t"}
      }
    },
    {
      "data": {"values": [{"i": 27.9, "p": 1733.03, "t": "黄金30分钟图"}]},
      "mark": {"type": "text", "align": "left", "baseline": "middle", "font": "Noto Sans CJK SC", "fontSize": 46, "color": "#1c1c8c"},
      "encoding": {
        "x": {"field": "i", "type": "quantitative", "title": null, "scale": {"domain": [-0.375, 554.875], "nice": false, "zero": false}},
        "y": {"field": "p", "type": "quantitative", "title": null, "scale": {"domain": [1658.38, 1738.99], "nice": false, "zero": false}},
        "text": {"field": "t"}
      }
    }
  ]
}
